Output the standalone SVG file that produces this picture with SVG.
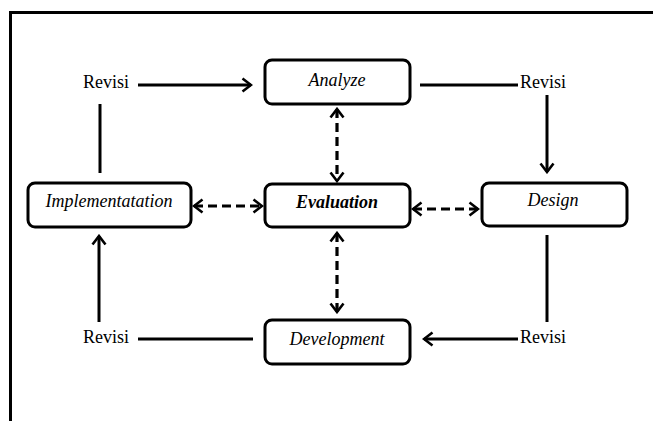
<svg xmlns="http://www.w3.org/2000/svg" width="653" height="421" viewBox="0 0 653 421">
<style>
.box{fill:#fff;stroke:#000;stroke-width:3}
.lbl{font-family:"Liberation Serif","DejaVu Serif",serif;font-size:18px;font-style:italic;fill:#000;text-anchor:middle}
.rev{font-family:"Liberation Serif","DejaVu Serif",serif;font-size:18px;fill:#000}
.c{stroke:#000;stroke-width:3;fill:none}
.d{stroke:#000;stroke-width:3.2;fill:none;stroke-dasharray:9 5}
</style>
<defs>
<marker id="ah" markerUnits="userSpaceOnUse" markerWidth="12" markerHeight="16" refX="10" refY="8" orient="auto-start-reverse">
<path d="M1.5,1.5 L10,8 L1.5,14.5" fill="none" stroke="#000" stroke-width="2.6"/>
</marker>
</defs>
<rect width="653" height="421" fill="#fff"/>
<g id="frame">
<path d="M10.5,421 V12.5 H653" fill="none" stroke="#000" stroke-width="3"/>
</g>
<g id="connectors">
<line class="c" x1="138" y1="85" x2="251" y2="85" marker-end="url(#ah)"/>
<line class="c" x1="420" y1="85" x2="518" y2="85"/>
<line class="c" x1="547" y1="95" x2="547" y2="172" marker-end="url(#ah)"/>
<line class="c" x1="547" y1="235" x2="547" y2="322"/>
<line class="c" x1="518" y1="339" x2="424" y2="339" marker-end="url(#ah)"/>
<line class="c" x1="253" y1="339" x2="138" y2="339"/>
<line class="c" x1="99" y1="322" x2="99" y2="236" marker-end="url(#ah)"/>
<line class="c" x1="100" y1="173" x2="100" y2="104"/>
<line class="d" x1="337" y1="109" x2="337" y2="181" marker-start="url(#ah)" marker-end="url(#ah)"/>
<line class="d" x1="337" y1="233" x2="337" y2="312" marker-start="url(#ah)" marker-end="url(#ah)"/>
<line class="d" x1="194" y1="206" x2="262" y2="206" marker-start="url(#ah)" marker-end="url(#ah)"/>
<line class="d" x1="413" y1="209" x2="478" y2="209" marker-start="url(#ah)" marker-end="url(#ah)"/>
</g>
<g id="analyze">
<rect class="box" x="265" y="60" width="145" height="44" rx="7"/>
<text class="lbl" x="337" y="86">Analyze</text>
</g>
<g id="evaluation">
<rect class="box" x="265" y="184" width="145" height="43" rx="7"/>
<text class="lbl" x="337" y="208" font-weight="bold">Evaluation</text>
</g>
<g id="development">
<rect class="box" x="265" y="320" width="145" height="44" rx="7"/>
<text class="lbl" x="337" y="345">Development</text>
</g>
<g id="implementation">
<rect class="box" x="28" y="183" width="163" height="44" rx="7"/>
<text class="lbl" x="109" y="207">Implementatation</text>
</g>
<g id="design">
<rect class="box" x="482" y="183" width="145" height="43" rx="7"/>
<text class="lbl" x="553" y="206">Design</text>
</g>
<g id="revisi-tl"><text class="rev" x="83" y="88">Revisi</text></g>
<g id="revisi-tr"><text class="rev" x="520" y="88">Revisi</text></g>
<g id="revisi-bl"><text class="rev" x="83" y="343">Revisi</text></g>
<g id="revisi-br"><text class="rev" x="520" y="343">Revisi</text></g>
</svg>
